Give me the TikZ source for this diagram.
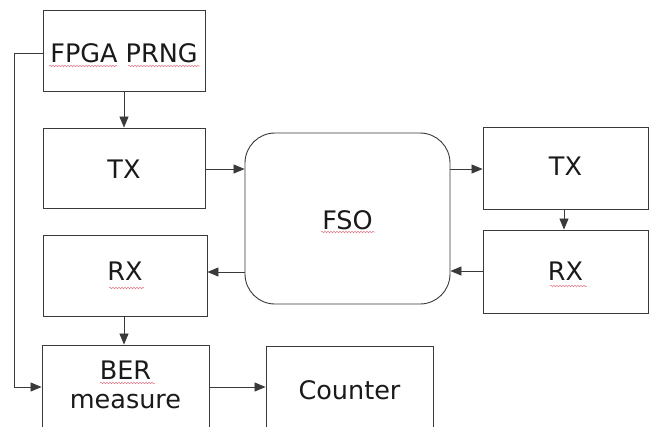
\documentclass[tikz,border=0pt]{standalone}
\usepackage{fontspec}
\setmainfont{DejaVu Sans}
\usetikzlibrary{arrows.meta,decorations.pathmorphing}
\definecolor{edge}{HTML}{3A3A3A}
\definecolor{ink}{HTML}{1A1A1A}
\definecolor{squig}{HTML}{E07A8A}
\tikzset{
  box/.style={draw=edge, line width=0.9pt, inner sep=0pt},
  txt/.style={text=ink, font=\fontsize{25.5}{29.5}\selectfont, align=center, inner sep=0pt},
  arr/.style={draw=edge, line width=0.8pt, -{Triangle[length=11pt,width=9pt]}},
  spell/.style={draw=squig, line width=0.5pt, decorate, decoration={snake, amplitude=0.8pt, segment length=3pt}}
}
\begin{document}
\begin{tikzpicture}[x=1pt,y=-1pt]
\useasboundingbox[fill=white] (0,0) rectangle (653,426);
% left column
\node[box, minimum width=162pt, minimum height=81pt] (fpga) at (124,51) {};
\node[txt] (fpgat) at (124,53) {FPGA PRNG};
\node[box, minimum width=162pt, minimum height=80pt] (txl) at (124,168) {};
\node[txt] (txlt) at (124,169) {TX};
\node[box, minimum width=164pt, minimum height=81pt] (rxl) at (125,275.5) {};
\node[txt] (rxlt) at (125,271) {RX};
\node[box, minimum width=167pt, minimum height=110pt] (ber) at (125.5,400) {};
\node[txt] (bert) at (125.5,385) {BER\\measure};
\node[box, minimum width=167pt, minimum height=110pt] (cnt) at (349.5,401) {};
\node[txt] (cntt) at (349.5,390) {Counter};
% FSO
\node[box, rounded corners=30pt, minimum width=205pt, minimum height=171pt] (fso) at (347.5,218.5) {};
\node[txt] (fsot) at (347.5,220) {FSO};
% right column
\node[box, minimum width=165pt, minimum height=82pt] (txr) at (565.5,168) {};
\node[txt] (txrt) at (565.5,166) {TX};
\node[box, minimum width=165pt, minimum height=83pt] (rxr) at (565.5,271.5) {};
\node[txt] (rxrt) at (565.5,271) {RX};
% connectors
\draw[arr] (fpga.south) -- (txl.north);
\draw[arr] (rxl.south -| 124,0) -- (ber.north -| 124,0);
\draw[arr] (fpga.west |- 0,53) -- ++(-28,0) |- (ber.west |- 0,387);
\draw[arr] (ber.east |- 0,387) -- (cnt.west |- 0,387);
\draw[arr] (txl.east |- 0,169) -- (fso.west |- 0,169);
\draw[arr] (fso.west |- 0,272) -- (rxl.east |- 0,272);
\draw[arr] (fso.east |- 0,169) -- (txr.west |- 0,169);
\draw[arr] (rxr.west |- 0,271) -- (fso.east |- 0,271);
\draw[arr] (txr.south -| 564,0) -- (rxr.north -| 564,0);
% spell-check underlines
\draw[spell] (49,66) -- (117,66);
\draw[spell] (128,66) -- (200,66);
\draw[spell] (321,232) -- (375,232);
\draw[spell] (550,286) -- (587,286);
\draw[spell] (109,288) -- (144,288);
\draw[spell] (100,383) -- (155,383);
\end{tikzpicture}
\end{document}
